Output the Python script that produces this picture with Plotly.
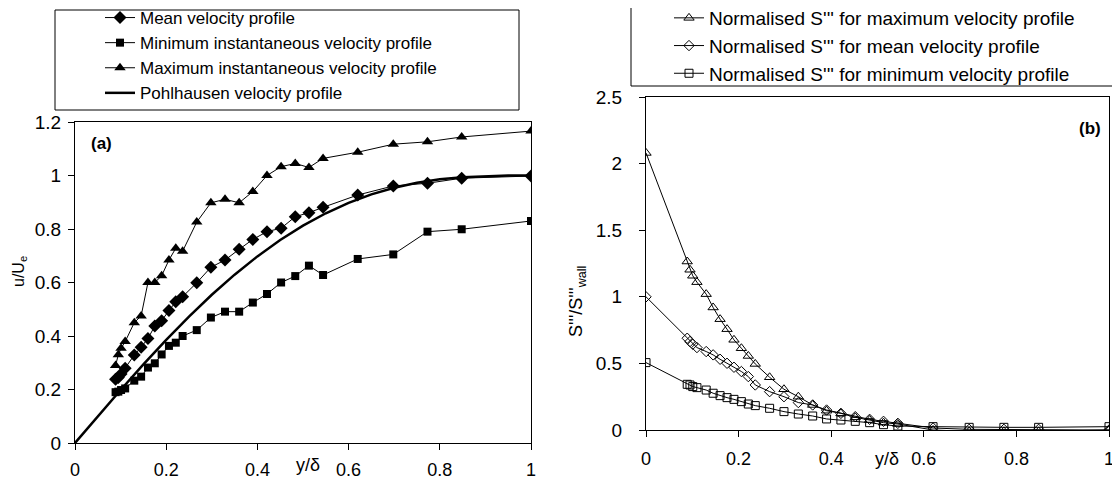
import plotly.graph_objects as go

# shared y/delta positions of measured points
y_delta = [0.089, 0.095, 0.101, 0.11, 0.13, 0.145, 0.16, 0.175, 0.19, 0.206, 0.221, 0.236,
           0.267, 0.298, 0.329, 0.36, 0.39, 0.421, 0.452, 0.483, 0.513, 0.544, 0.62,
           0.698, 0.773, 0.848, 1.0]

# (a) velocity profiles u/Ue
u_mean = [0.238, 0.245, 0.258, 0.279, 0.329, 0.358, 0.391, 0.437, 0.457, 0.495, 0.528, 0.547,
          0.599, 0.657, 0.684, 0.724, 0.761, 0.79, 0.803, 0.846, 0.861, 0.881, 0.927,
          0.961, 0.971, 0.99, 0.998]
u_min = [0.19, 0.192, 0.198, 0.204, 0.233, 0.248, 0.282, 0.298, 0.331, 0.363, 0.375, 0.4,
         0.422, 0.469, 0.491, 0.491, 0.525, 0.557, 0.6, 0.624, 0.663, 0.628, 0.688,
         0.705, 0.79, 0.799, 0.83]
u_max = [0.29, 0.33, 0.354, 0.379, 0.45, 0.475, 0.6, 0.6, 0.625, 0.684, 0.728, 0.717,
         0.826, 0.898, 0.911, 0.898, 0.94, 1.0, 1.033, 1.045, 1.03, 1.064, 1.087,
         1.117, 1.126, 1.144, 1.166]

pohl_x = [0, 0.05, 0.1, 0.15, 0.2, 0.25, 0.3, 0.35, 0.4, 0.45, 0.5, 0.55, 0.6, 0.65, 0.7,
          0.75, 0.8, 0.85, 0.9, 0.95, 1.0]
pohl_u = [0, 0.0998, 0.198, 0.2938, 0.3856, 0.4727, 0.5541, 0.6293, 0.6976, 0.7588, 0.8125,
          0.8588, 0.8976, 0.9293, 0.9541, 0.9727, 0.9856, 0.9938, 0.9981, 0.9998, 1.0]

# (b) normalised S''' (includes wall point y/delta = 0)
s_x = [0.0] + y_delta
s_max = [2.08, 1.265, 1.203, 1.158, 1.11, 1.02, 0.92, 0.832, 0.757, 0.677, 0.614, 0.556,
         0.496, 0.396, 0.306, 0.25, 0.188, 0.145, 0.125, 0.095, 0.075, 0.055, 0.045,
         0.0, -0.01, -0.01, -0.01, 0.0]
s_mean = [1.0, 0.689, 0.664, 0.644, 0.619, 0.589, 0.564, 0.531, 0.501, 0.471, 0.439, 0.401,
          0.338, 0.288, 0.25, 0.206, 0.188, 0.15, 0.125, 0.10, 0.08, 0.065, 0.05,
          0.015, 0.005, 0.005, 0.005, 0.0]
s_min = [0.506, 0.343, 0.338, 0.326, 0.318, 0.30, 0.276, 0.258, 0.243, 0.23, 0.213, 0.195,
         0.183, 0.163, 0.138, 0.12, 0.105, 0.083, 0.075, 0.065, 0.055, 0.04, 0.03,
         0.025, 0.02, 0.02, 0.02, 0.025]

FONT = "Liberation Sans, Arial, sans-serif"
W, H = 1120, 482
OFF = 8  # page body margin of the rendered html


def px(x):
    return (x - OFF) / W


def py(y):
    return 1 - (y - OFF) / H


fig = go.Figure()
fig.add_trace(go.Scatter(x=y_delta, y=u_mean, mode="lines+markers", name="Mean velocity profile",
                         line=dict(color="black", width=1),
                         marker=dict(symbol="diamond", size=10, color="black"),
                         xaxis="x", yaxis="y", legend="legend"))
fig.add_trace(go.Scatter(x=y_delta, y=u_min, mode="lines+markers",
                         name="Minimum instantaneous velocity profile",
                         line=dict(color="black", width=1),
                         marker=dict(symbol="square", size=8, color="black"),
                         xaxis="x", yaxis="y", legend="legend"))
fig.add_trace(go.Scatter(x=y_delta, y=u_max, mode="lines+markers",
                         name="Maximum instantaneous velocity profile",
                         line=dict(color="black", width=1),
                         marker=dict(symbol="triangle-up", size=10, color="black"),
                         xaxis="x", yaxis="y", legend="legend"))
fig.add_trace(go.Scatter(x=pohl_x, y=pohl_u, mode="lines", name="Pohlhausen velocity profile",
                         line=dict(color="black", width=2.5),
                         xaxis="x", yaxis="y", legend="legend"))

fig.add_trace(go.Scatter(x=s_x, y=s_max, mode="lines+markers",
                         name="Normalised S''' for maximum velocity profile",
                         line=dict(color="black", width=1),
                         marker=dict(symbol="triangle-up-open", size=9, color="black",
                                     line=dict(width=1)),
                         xaxis="x2", yaxis="y2", legend="legend2"))
fig.add_trace(go.Scatter(x=s_x, y=s_mean, mode="lines+markers",
                         name="Normalised S''' for mean velocity profile",
                         line=dict(color="black", width=1),
                         marker=dict(symbol="diamond-open", size=8, color="black",
                                     line=dict(width=1)),
                         xaxis="x2", yaxis="y2", legend="legend2"))
fig.add_trace(go.Scatter(x=s_x, y=s_min, mode="lines+markers",
                         name="Normalised S''' for minimum velocity profile",
                         line=dict(color="black", width=1),
                         marker=dict(symbol="square-open", size=8, color="black",
                                     line=dict(width=1)),
                         xaxis="x2", yaxis="y2", legend="legend2"))

axis_common = dict(showgrid=False, zeroline=False, showline=True, linecolor="black",
                   linewidth=1, mirror=True, ticks="outside", ticklen=6, tickcolor="black",
                   automargin=False)

fig.update_layout(
    width=W, height=H,
    margin=dict(l=0, r=0, t=0, b=0, pad=0, autoexpand=False),
    paper_bgcolor="white", plot_bgcolor="white",
    showlegend=True,
    font=dict(family=FONT, size=16, color="black"),
    xaxis=dict(domain=[px(75), px(531)], range=[0, 1], tickvals=[0, 0.2, 0.4, 0.6, 0.8, 1],
               ticktext=["0", "0.2", "0.4", "0.6", "0.8", "1"], anchor="y",
               ticklabelstandoff=4, tickfont=dict(family=FONT, size=18, color="black"),
               **axis_common),
    yaxis=dict(domain=[py(443), py(122)], range=[0, 1.2],
               tickvals=[0, 0.2, 0.4, 0.6, 0.8, 1, 1.2],
               ticktext=["0", "0.2", "0.4", "0.6", "0.8", "1", "1.2"], anchor="x",
               ticklabelstandoff=3, tickfont=dict(family=FONT, size=19, color="black"),
               **axis_common),
    xaxis2=dict(domain=[px(646), px(1109)], range=[0, 1], tickvals=[0, 0.2, 0.4, 0.6, 0.8, 1],
                ticktext=["0", "0.2", "0.4", "0.6", "0.8", "1"], anchor="y2",
                ticklabelstandoff=6, tickfont=dict(family=FONT, size=18, color="black"),
                **axis_common),
    yaxis2=dict(domain=[py(430), py(97)], range=[0, 2.5],
                tickvals=[0, 0.5, 1, 1.5, 2, 2.5],
                ticktext=["0", "0.5", "1", "1.5", "2", "2.5"], anchor="x2",
                ticklabelstandoff=13, tickfont=dict(family=FONT, size=19, color="black"),
                **axis_common),
    legend=dict(x=px(100), y=py(0), xanchor="left", yanchor="top",
                borderwidth=0, bgcolor="rgba(0,0,0,0)",
                font=dict(family=FONT, size=17, color="black"), itemwidth=30,
                tracegroupgap=0),
    legend2=dict(x=px(669), y=py(-1), xanchor="left", yanchor="top",
                 borderwidth=0, bgcolor="rgba(0,0,0,0)",
                 font=dict(family=FONT, size=19, color="black"), itemwidth=30,
                 tracegroupgap=0),
    shapes=[
        dict(type="rect", xref="paper", yref="paper", x0=px(55), x1=px(519),
             y0=py(110), y1=py(10), line=dict(color="black", width=1), layer="below"),
        dict(type="rect", xref="paper", yref="paper", x0=px(631), x1=px(1125),
             y0=py(86), y1=py(-2), line=dict(color="black", width=1), layer="below"),
    ],
    annotations=[
        dict(text="<b>(a)</b>", x=px(101), y=py(143), xref="paper", yref="paper",
             showarrow=False, font=dict(family=FONT, size=17, color="black"),
             xanchor="center", yanchor="middle"),
        dict(text="<b>(b)</b>", x=px(1090), y=py(128), xref="paper", yref="paper",
             showarrow=False, font=dict(family=FONT, size=17, color="black"),
             xanchor="center", yanchor="middle"),
        dict(text="y/δ", x=0.51, y=py(465), xref="x", yref="paper",
             showarrow=False, font=dict(family=FONT, size=18, color="black"),
             xanchor="center", yanchor="middle"),
        dict(text="y/δ", x=0.52, y=py(459), xref="x2", yref="paper",
             showarrow=False, font=dict(family=FONT, size=18, color="black"),
             xanchor="center", yanchor="middle"),
        dict(text="u/U<sub>e</sub>", x=px(19), y=py(272), xref="paper", yref="paper",
             showarrow=False, textangle=-90, font=dict(family=FONT, size=16, color="black"),
             xanchor="center", yanchor="middle"),
        dict(text="S'''/S'''<sub>wall</sub>", x=px(577), y=py(302), xref="paper",
             yref="paper", showarrow=False, textangle=-90,
             font=dict(family=FONT, size=18, color="black"),
             xanchor="center", yanchor="middle"),
    ],
)

fig.write_html("out.html")
